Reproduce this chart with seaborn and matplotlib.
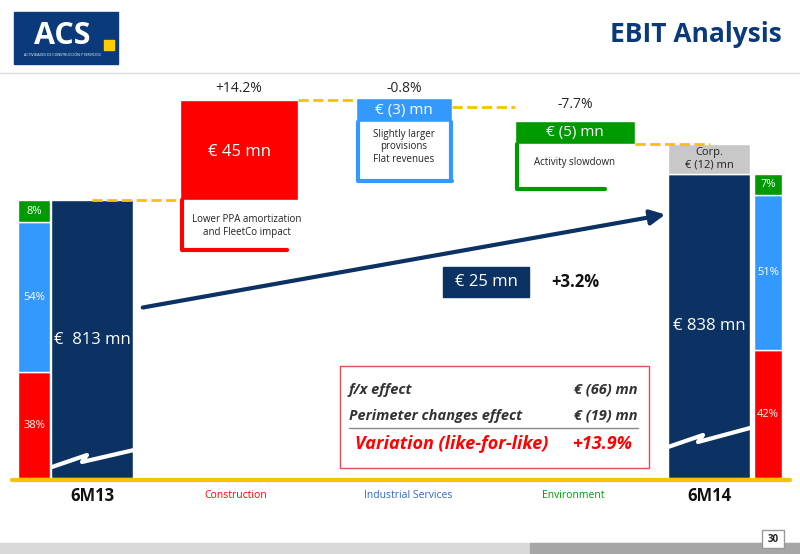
import matplotlib
matplotlib.use("Agg")
import matplotlib.pyplot as plt
import seaborn as sns
from matplotlib.patches import Rectangle, FancyArrowPatch

sns.set_theme(style="white")
plt.rcParams['font.family'] = ['Open Sans', 'DejaVu Sans']

# data
start_label, end_label = "6M13", "6M14"
start_value, end_value = 813, 838
step_names = ["Construction", "Industrial Services", "Environment"]
step_values = [45, -3, -5]
step_pcts = ["+14.2%", "-0.8%", "-7.7%"]
corp_value = -12
mix_start = [38, 54, 8]
mix_end = [42, 51, 7]
fx_rows = [("f/x effect", "€ (66) mn"), ("Perimeter changes effect", "€ (19) mn")]
lfl_text, lfl_pct = "Variation (like-for-like)", "+13.9%"

NAVY = "#0B3262"; RED = "#FF0000"; BLUE = "#3399FF"; GREEN = "#009900"
base_px, top_px, ppu = 478, 200, 2.22
def y(v):
    return top_px - (v - start_value) * ppu

fig = plt.figure(figsize=(8, 5.54), dpi=100)
ax = fig.add_axes([0, 0, 1, 1])
ax.set_xlim(0, 800); ax.set_ylim(554, 0); ax.axis("off")

# header
ax.add_patch(Rectangle((14, 12), 104, 52, color="#0B3A7A"))
ax.text(62, 36, "ACS", color="white", fontsize=22, fontweight="bold", ha="center", va="center")
ax.text(62, 56, "ACTIVIDADES DE CONSTRUCCIÓN Y SERVICIOS", color="white", fontsize=2.5, ha="center")
ax.add_patch(Rectangle((104, 40), 10, 10, color="#FFCC00"))
ax.text(782, 35, "EBIT Analysis", color="#0B3A7A", fontsize=19, fontweight="bold", ha="right", va="center")
ax.plot([0, 800], [73, 73], color="#DDDDDD", lw=1)

# start bar
ax.bar(92, y(start_value) - base_px, bottom=base_px, width=82, color=NAVY)
ax.text(54, 340, "€  813 mn", color="white", fontsize=12, va="center")
cols = [RED, BLUE, GREEN]
b = base_px
for p, c in zip(mix_start, cols):
    h = (top_px - base_px) * p / 100
    ax.bar(34, h, bottom=b, width=32, color=c, edgecolor="white", lw=1)
    ax.text(34, b + h / 2, f"{p}%", color="white", fontsize=8, ha="center", va="center")
    b += h

# steps (waterfall)
xs = [239, 404, 575]
widths = [118, 96, 120]
cur = start_value
ax.plot([92, 180], [y(start_value), y(start_value)], color="#F5C400", ls="--", lw=2)
notes = ["Lower PPA amortization\nand FleetCo impact", "Slightly larger\nprovisions\nFlat revenues", "Activity slowdown"]
for i, (v, xc, w) in enumerate(zip(step_values, xs, widths)):
    new = cur + v
    t, bo = y(max(cur, new)), y(min(cur, new))
    if i == 0:
        ax.bar(xc, t - bo, bottom=bo, width=w, color=RED)
        ax.text(xc, 152, "€ 45 mn", color="white", fontsize=12, ha="center", va="center")
        ax.plot([xc - w/2 + 2, xc - w/2 + 2, xc + 48], [bo, 250, 250], color=RED, lw=3)
        ax.text(xc + 8, 226, notes[0], fontsize=7, ha="center", va="center", color="#222")
        ax.text(xc, 88, step_pcts[0], fontsize=10, ha="center", va="center")
        endy = y(new)
    elif i == 1:
        ax.bar(xc, 24, bottom=t - 2, width=w, color=BLUE)
        ax.text(xc, t + 10, "€ (3) mn", color="white", fontsize=11, ha="center", va="center")
        ax.plot([xc - w/2 + 2, xc - w/2 + 2, xc + w/2], [t + 22, 181, 181], color=BLUE, lw=3)
        ax.plot([xc + w/2 - 1, xc + w/2 - 1], [t + 22, 181], color=BLUE, lw=3)
        ax.text(xc, 147, notes[1], fontsize=7, ha="center", va="center", color="#222")
        ax.text(xc, 88, step_pcts[1], fontsize=10, ha="center", va="center")
        endy = t + 7
    else:
        top = t + 14
        ax.bar(xc, 23, bottom=top, width=w, color=GREEN)
        ax.text(xc, top + 12, "€ (5) mn", color="white", fontsize=11, ha="center", va="center")
        ax.plot([xc - w/2 + 2, xc - w/2 + 2, xc + 30], [top + 23, 189, 189], color=GREEN, lw=3)
        ax.text(xc, 163, notes[2], fontsize=7, ha="center", va="center", color="#222")
        ax.text(xc, 104, step_pcts[2], fontsize=10, ha="center", va="center")
        endy = top + 23
    nxt = xs[i + 1] - widths[i + 1] / 2 if i < 2 else 710
    ax.plot([xc + w/2, nxt], [endy, endy], color="#F5C400", ls="--", lw=2)
    cur = new

# end bar with corporate
grey_top = endy
etop = grey_top - corp_value * 2.5
ax.bar(709, etop - base_px, bottom=base_px, width=82, color=NAVY)
ax.text(709, 326, "€ 838 mn", color="white", fontsize=12, ha="center", va="center")
ax.bar(709, grey_top - etop, bottom=etop, width=82, color="#C8C8C8")
ax.text(709, (grey_top + etop) / 2, "Corp.\n€ (12) mn", color="#222222", fontsize=8, ha="center", va="center")
b = base_px
for p, c in zip(mix_end, cols):
    h = (etop - base_px) * p / 100
    ax.bar(768, h, bottom=b, width=28, color=c, edgecolor="white", lw=1)
    ax.text(768, b + h / 2, f"{p}%", color="white", fontsize=8, ha="center", va="center")
    b += h
# break marks
ax.plot([52, 87, 82, 134], [467, 455, 462, 450], color="white", lw=3)
ax.plot([668, 703, 698, 750], [447, 435, 442, 428], color="white", lw=3)

# arrow
ax.add_patch(FancyArrowPatch((140, 308), (668, 214), arrowstyle="-|>", mutation_scale=22, color=NAVY, lw=3))
ax.add_patch(Rectangle((443, 267), 86, 30, color=NAVY))
ax.text(486, 282, "€ 25 mn", color="white", fontsize=12, ha="center", va="center")
ax.text(575, 282, "+3.2%", color="#111", fontsize=12, fontweight="bold", ha="center", va="center")

# fx box
ax.add_patch(Rectangle((340, 366), 309, 102, fill=False, edgecolor="#E05050", lw=1))
kw = dict(fontsize=10.5, style="italic", fontweight="bold", color="#333", va="center")
ax.text(349, 390, fx_rows[0][0], **kw)
ax.text(638, 390, fx_rows[0][1], ha="right", **kw)
ax.text(349, 416, fx_rows[1][0], **kw)
ax.text(638, 416, fx_rows[1][1], ha="right", **kw)
ax.plot([349, 638], [428, 428], color="#888", lw=1)
ax.text(355, 444, lfl_text, fontsize=13, style="italic", fontweight="bold", color=RED, va="center")
ax.text(632, 444, lfl_pct, fontsize=13, style="italic", fontweight="bold", color=RED, va="center", ha="right")

# axis line and labels
ax.plot([12, 790], [480, 480], color="#F5C400", lw=3)
ax.text(92, 496, start_label, fontsize=12, fontweight="bold", ha="center", va="center", color="#111")
ax.text(709, 496, end_label, fontsize=12, fontweight="bold", ha="center", va="center", color="#111")
for n, xc, c in zip(step_names, [236, 408, 573], [RED, "#3366CC", GREEN]):
    ax.text(xc, 496, n, fontsize=7.5, ha="center", va="center", color=c)

# footer
ax.add_patch(Rectangle((0, 543), 800, 11, color="#D9D9D9"))
ax.add_patch(Rectangle((530, 543), 270, 11, color="#A6A6A6"))
ax.add_patch(Rectangle((762, 530), 22, 18, facecolor="white", edgecolor="#999", lw=1))
ax.text(773, 539, "30", fontsize=7, fontweight="bold", ha="center", va="center")

fig.savefig("out.png", dpi=100)
